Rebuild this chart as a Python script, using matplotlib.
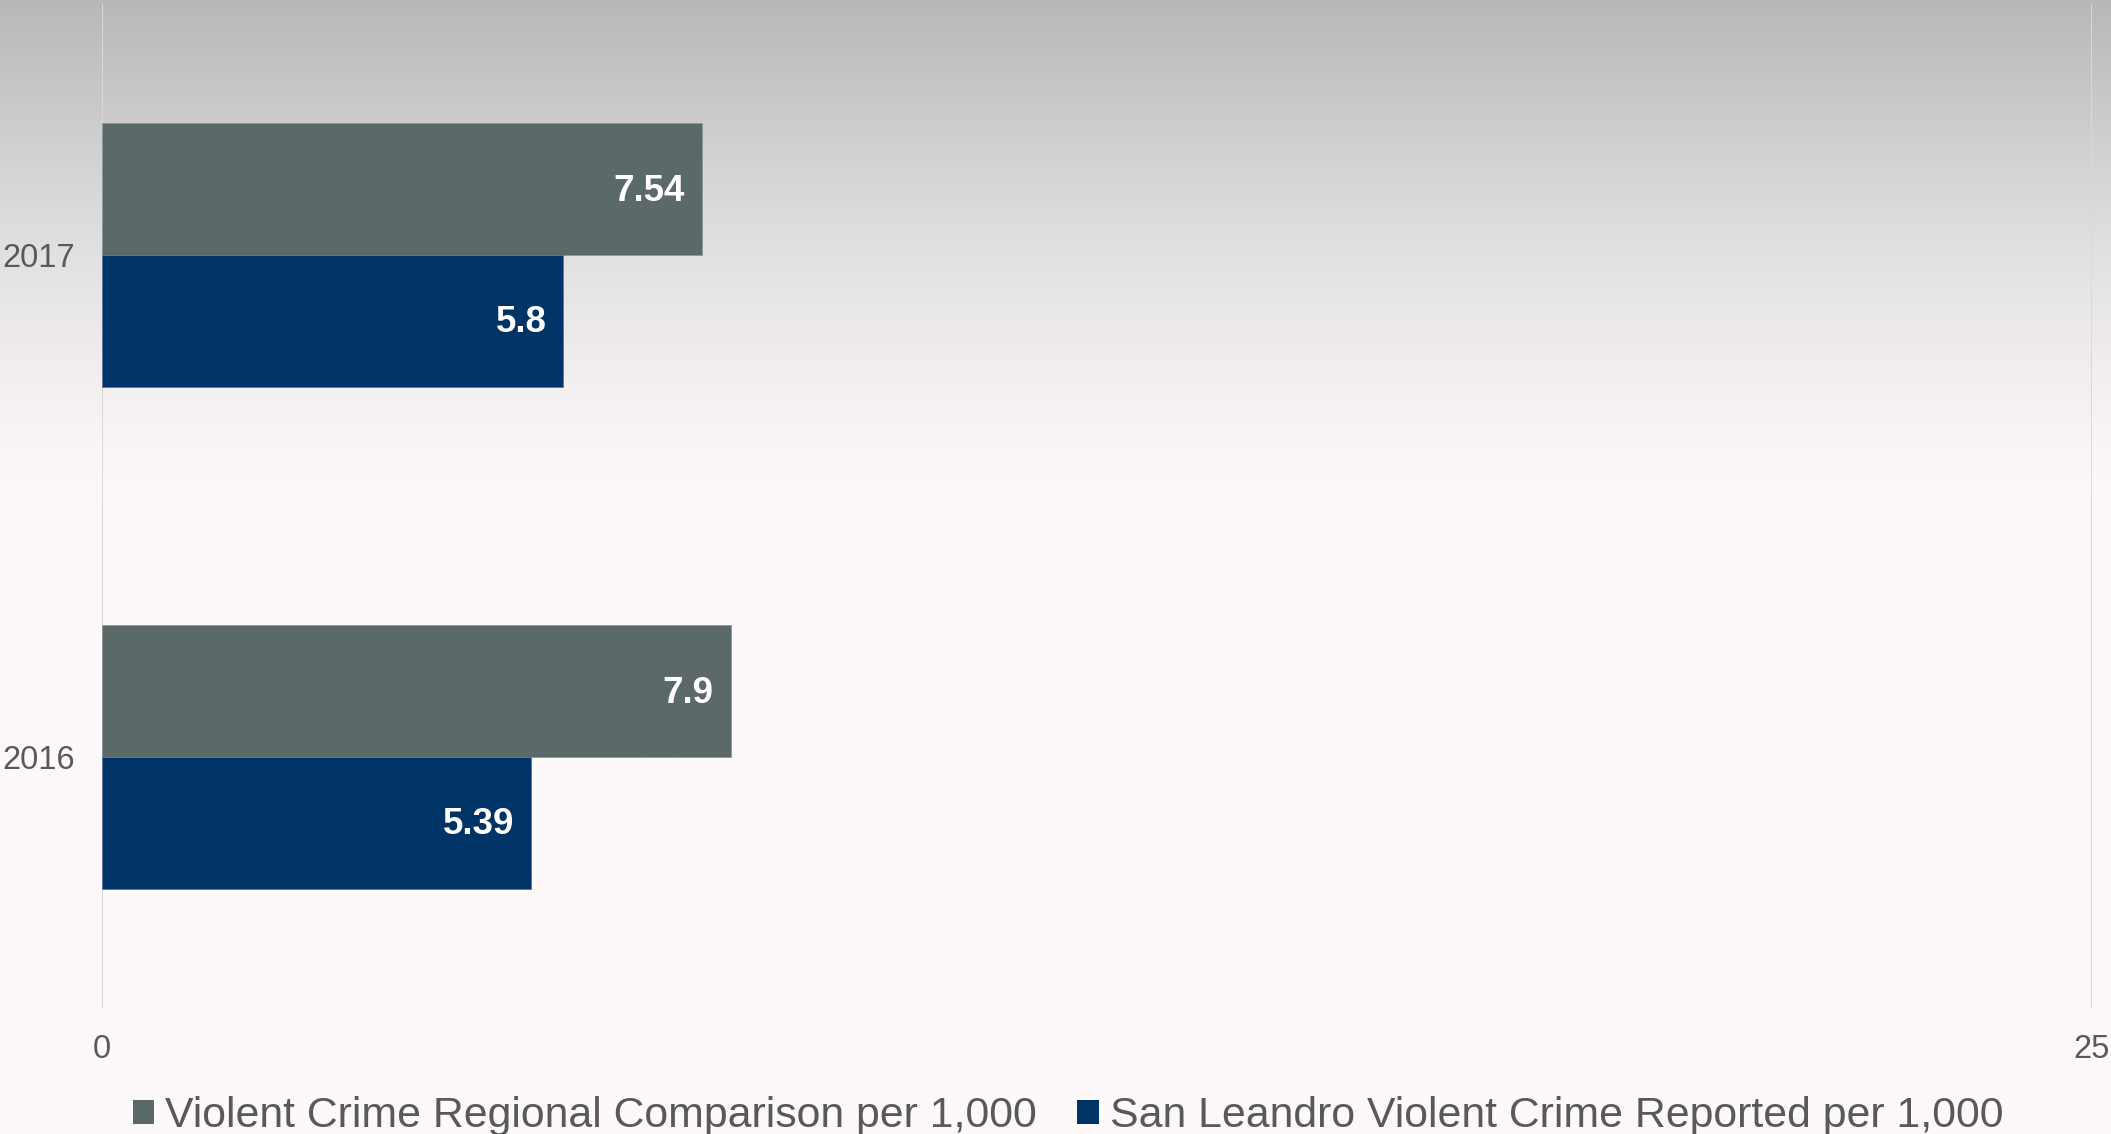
import numpy as np
import matplotlib
matplotlib.use("Agg")
import matplotlib.pyplot as plt
from matplotlib.patches import Patch

# ---- data ----
years = ["2016", "2017"]
regional = [7.9, 7.54]
san_leandro = [5.39, 5.8]
series_names = ["Violent Crime Regional Comparison per 1,000",
                "San Leandro Violent Crime Reported per 1,000"]
x_ticks = [0, 25]

# ---- style ----
gray = "#5B6969"
blue = "#003366"
text_col = "#595959"
plt.rcParams["font.family"] = ["Liberation Sans", "DejaVu Sans"]

W, H, DPI = 2111, 1134, 100
fig = plt.figure(figsize=(W / DPI, H / DPI), dpi=DPI)

# background gradient
bg = fig.add_axes([0, 0, 1, 1], zorder=-10)
n = 600
frac = np.linspace(0, 1, n)
top = np.array([184, 184, 184]) / 255.0
bot = np.array([253, 249, 250]) / 255.0
t = np.clip(frac / 0.44, 0, 1)
t = np.sin(t * np.pi / 2) * 0.5 + t * 0.5
cols = top[None, :] * (1 - t[:, None]) + bot[None, :] * t[:, None]
img = np.repeat(cols[:, None, :], 2, axis=1)
bg.imshow(img, aspect="auto", extent=[0, 1, 1, 0])
bg.set_axis_off()

ax = fig.add_axes([101.7 / W, 1 - 1008 / H, (2091.7 - 101.7) / W, (1008 - 4) / H])
ax.set_facecolor("none")

y = np.arange(len(years))
h = 0.262
b1 = ax.barh(y + h / 2, regional, height=h, color=gray, edgecolor="#8A9898", linewidth=0.6, zorder=3)
b2 = ax.barh(y - h / 2, san_leandro, height=h, color=blue, edgecolor="#5A78A0", linewidth=0.6, zorder=3)

for bars, vals in ((b1, regional), (b2, san_leandro)):
    for rect, v in zip(bars, vals):
        ax.annotate(f"{v:g}", xy=(rect.get_width(), rect.get_y() + rect.get_height() / 2),
                    xytext=(-12, -1.5), textcoords="offset points", ha="right", va="center",
                    color="white", fontsize=26.5, fontweight="bold", zorder=4)

ax.set_xlim(0, 25)
ax.set_ylim(-0.5, 1.5)
ax.set_xticks(x_ticks)
ax.set_xticklabels([str(v) for v in x_ticks])
ax.set_yticks(y)
ax.set_yticklabels(years)
ax.tick_params(axis="both", length=0, labelsize=23.5, labelcolor=text_col)
ax.tick_params(axis="y", pad=19)
ax.tick_params(axis="x", pad=19)
for s in ax.spines.values():
    s.set_visible(False)
for xv in x_ticks:
    ax.axvline(xv, color="#D9D9D9", linewidth=1.4, zorder=1)

handles = [Patch(facecolor=gray, edgecolor="none"), Patch(facecolor=blue, edgecolor="none")]
fig.legend(handles, series_names, loc="center", bbox_to_anchor=(1068 / W, 1 - 1116 / H),
           ncol=2, frameon=False, fontsize=30.8, labelcolor=text_col,
           handlelength=0.5, handleheight=0.5, handletextpad=0.25, columnspacing=0.95,
           borderaxespad=0, borderpad=0)

fig.savefig("out.png", dpi=DPI)
